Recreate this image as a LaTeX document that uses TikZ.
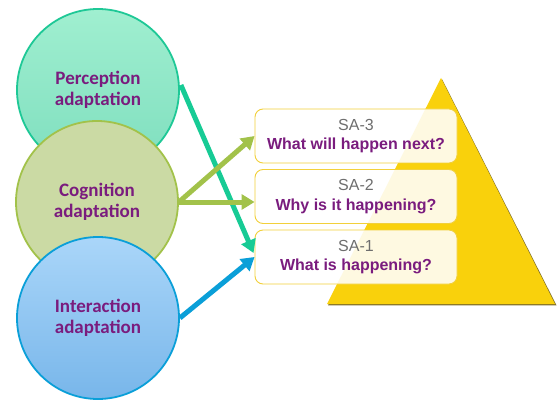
\documentclass[tikz,border=0pt]{standalone}
\usepackage{fontspec}
\newfontfamily\carl{Carlito}
\newfontfamily\arl{Liberation Sans}
\usetikzlibrary{arrows.meta,calc}
\definecolor{purp}{HTML}{7A1C7E}
\definecolor{tealA}{HTML}{17CB95}
\definecolor{greenA}{HTML}{A2C24A}
\definecolor{blueA}{HTML}{0A9FD8}
\definecolor{yel}{HTML}{F9D10C}
\definecolor{yelshadow}{HTML}{7F6E28}
\definecolor{boxline}{HTML}{F2D03A}
\definecolor{salab}{HTML}{6E6E6E}
\tikzset{
  adapt/.style={circle, minimum size=162pt, inner sep=0pt, line width=1.8pt,
     align=center, font=\carl\bfseries\fontsize{19}{21}\selectfont, text=purp},
  sabox/.style={rectangle, rounded corners=8pt, minimum width=202pt, minimum height=54pt,
     draw=boxline, line width=0.9pt, fill=white, fill opacity=0.88, text opacity=1,
     align=center, font=\arl\fontsize{16}{19.5}\selectfont},
  conn/.style={line width=5pt, -{Triangle[width=15pt,length=13pt]}}
}
\newcommand{\satext}[2]{{\color{salab}#1}\\{\bfseries\color{purp}#2}}
\begin{document}
\begin{tikzpicture}[x=1pt,y=-1pt]
\useasboundingbox (0,0) rectangle (557,401);
% pyramid
\fill[yelshadow] (442.2,79.5) -- (556.5,305.3) -- (328,305.3) -- cycle;
\fill[yel] (441,78) -- (555,304) -- (327,304) -- cycle;
% circles
\node[adapt, draw={rgb,255:red,30;green,200;blue,150}, top color={rgb,255:red,160;green,239;blue,208}, bottom color={rgb,255:red,126;green,222;blue,190}] (perc) at (98,90) {Perception\\adaptation};
\node[adapt, draw=greenA, fill={rgb,255:red,203;green,218;blue,164}] (cog) at (97,202) {Cognition\\adaptation};
\node[adapt, draw=blueA, top color={rgb,255:red,170;green,214;blue,249}, bottom color={rgb,255:red,120;green,182;blue,234}] (inter) at (98,318) {Interaction\\adaptation};
% boxes
\node[sabox] (sa3) at (356,136) {\satext{SA-3}{What will happen next?}};
\node[sabox, minimum height=54pt] (sa2) at (356,196.5) {\satext{SA-2}{Why is it happening?}};
\node[sabox, minimum height=54pt] (sa1) at (356,257) {\satext{SA-1}{What is happening?}};
% connectors
\draw[conn, tealA] ($(perc.east)+(1,-5)$) -- ($(sa1.west)+(-1,-4)$);
\draw[conn, greenA] (cog.east) -- (sa3.west);
\draw[conn, greenA] (cog.east) -- (cog.east -| sa2.west);
\draw[conn, blueA] (inter.east) -- (sa1.west);
\end{tikzpicture}
\end{document}
